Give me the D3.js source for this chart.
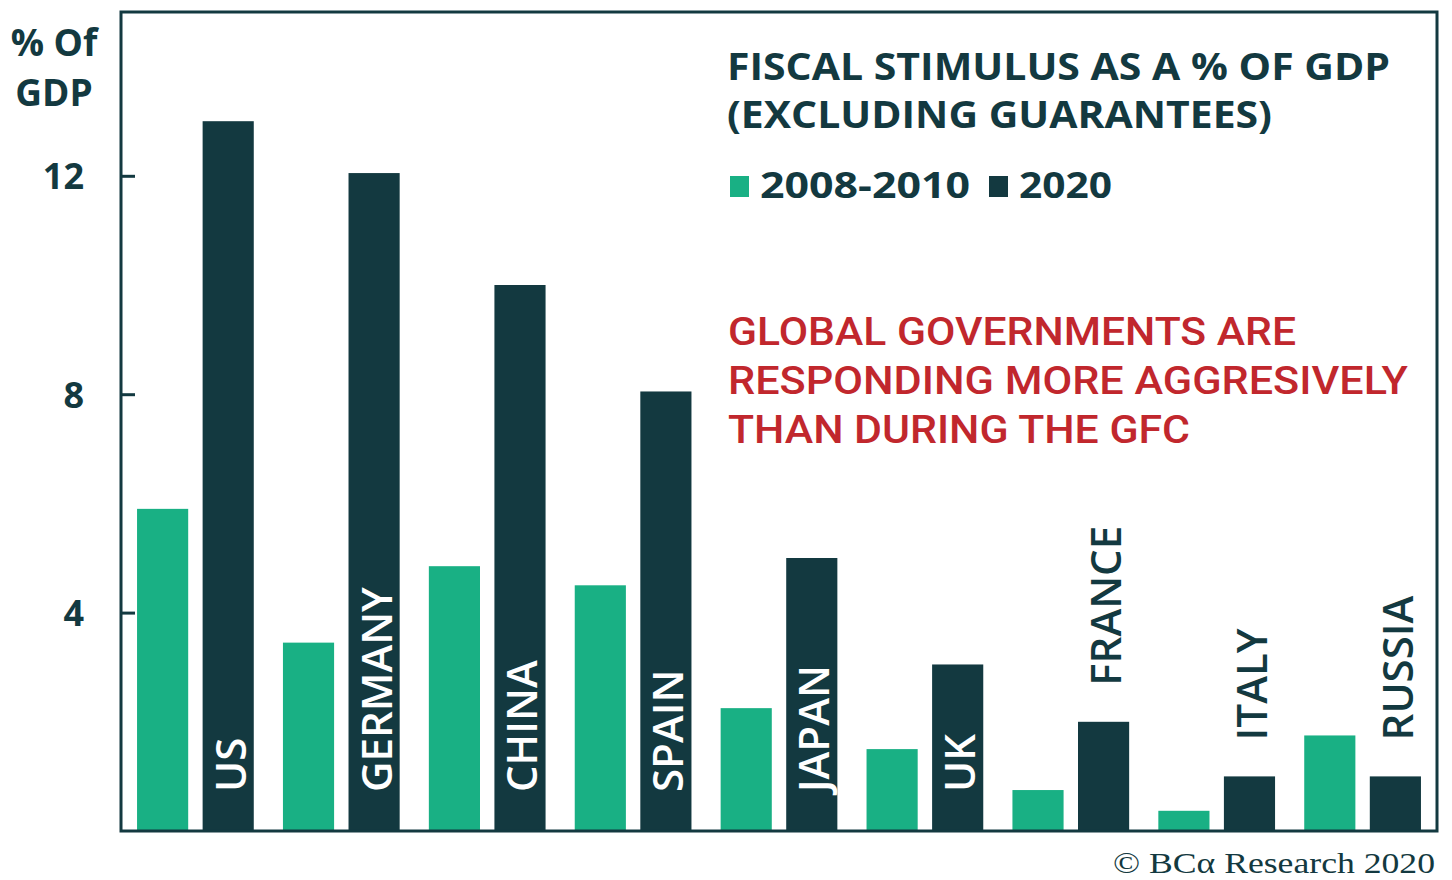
<!DOCTYPE html>
<html>
<head>
<meta charset="utf-8">
<script src="https://cdn.jsdelivr.net/npm/d3@7"></script>
<style>
  html, body { margin: 0; padding: 0; background: #fff; }
  svg { display: block; }
</style>
</head>
<body>
<svg id="chart" width="1452" height="880"></svg>
<script>
// Fiscal stimulus by country, % of GDP
const countries = ["US", "GERMANY", "CHINA", "SPAIN", "JAPAN", "UK", "FRANCE", "ITALY", "RUSSIA"];
const gfc2008 = [5.9, 3.45, 4.85, 4.5, 2.25, 1.5, 0.75, 0.37, 1.75];
const covid2020 = [13.0, 12.05, 10.0, 8.05, 5.0, 3.05, 2.0, 1.0, 1.0];
const seriesNames = ["2008-2010", "2020"];
const yTicks = [4, 8, 12];

const GREEN = "#19b084";
const DARK = "#133940";
const RED = "#c1272d";

const svg = d3.select("#chart");
const plot = { left: 121, right: 1437, top: 12, bottom: 831 };

const y = d3.scaleLinear().domain([0, 15]).range([plot.bottom, plot.top]);
const x0 = d3.scaleBand().domain(countries)
  .range([plot.left, plot.right]).paddingInner(0.2).paddingOuter(0.11);
const x1 = d3.scaleBand().domain(seriesNames)
  .range([0, x0.bandwidth()]).paddingInner(0.22).paddingOuter(0);

const rows = countries.map((c, i) => ({ country: c, values: [gfc2008[i], covid2020[i]] }));

// bars
const groups = svg.append("g").selectAll("g").data(rows).join("g")
  .attr("transform", d => `translate(${x0(d.country)},0)`);
groups.selectAll("rect").data(d => d.values.map((v, k) => ({ key: seriesNames[k], value: v })))
  .join("rect")
  .attr("x", d => x1(d.key))
  .attr("width", x1.bandwidth())
  .attr("y", d => y(d.value))
  .attr("height", d => y(0) - y(d.value))
  .attr("fill", d => d.key === "2020" ? DARK : GREEN);

// country labels, rotated; inside the 2020 bar where they fit, above it otherwise
const labelFont = "'Open Sans', sans-serif";
groups.each(function (d) {
  const g = d3.select(this);
  const cx = x1("2020") + x1.bandwidth() / 2;
  const t = g.append("text")
    .text(d.country)
    .attr("font-family", labelFont)
    .attr("font-weight", 600)
    .attr("font-size", 42)
    .attr("dominant-baseline", "central")
    .attr("text-anchor", "start");
  const len = t.node().getComputedTextLength();
  const barH = y(0) - y(d.values[1]);
  let startY, color;
  if (len + 45 < barH) {
    startY = y(0) - 39; color = "#ffffff";
  } else {
    startY = y(d.values[1]) - 36; color = DARK;
  }
  t.attr("fill", color)
   .attr("transform", `translate(${cx + 1},${startY}) rotate(-90)`);
});

// y axis ticks (inward) and labels
const yAxis = d3.axisRight(y).tickValues(yTicks).tickSize(14).tickFormat("");
svg.append("g").attr("transform", `translate(${plot.left},0)`).call(yAxis)
  .call(g => g.select(".domain").remove())
  .call(g => g.selectAll("line").attr("stroke", DARK).attr("stroke-width", 3));

svg.append("g").selectAll("text").data(yTicks).join("text")
  .attr("x", 84).attr("y", d => y(d))
  .attr("dominant-baseline", "central")
  .attr("text-anchor", "end")
  .attr("font-family", labelFont).attr("font-weight", 700).attr("font-size", 36)
  .attr("fill", DARK)
  .text(d => d);

// frame
svg.append("rect")
  .attr("x", plot.left).attr("y", plot.top)
  .attr("width", plot.right - plot.left).attr("height", plot.bottom - plot.top)
  .attr("fill", "none").attr("stroke", DARK).attr("stroke-width", 3);

// axis unit label
const unit = svg.append("text")
  .attr("font-family", labelFont).attr("font-weight", 700).attr("font-size", 37)
  .attr("fill", DARK).attr("text-anchor", "middle");
unit.append("tspan").attr("x", 54).attr("y", 56).text("% Of");
unit.append("tspan").attr("x", 54).attr("y", 106).text("GDP");

// title
const title = svg.append("g").attr("font-family", labelFont).attr("font-weight", 700)
  .attr("font-size", 37).attr("fill", DARK);
title.append("text").attr("x", 727).attr("y", 80)
  .attr("textLength", 663).attr("lengthAdjust", "spacingAndGlyphs")
  .text("FISCAL STIMULUS AS A % OF GDP");
title.append("text").attr("x", 727).attr("y", 128)
  .attr("textLength", 545).attr("lengthAdjust", "spacingAndGlyphs")
  .text("(EXCLUDING  GUARANTEES)");

// legend
const legend = svg.append("g");
const legendItems = [
  { name: seriesNames[0], color: GREEN, sx: 730, tx: 760, w: 210 },
  { name: seriesNames[1], color: DARK, sx: 989, tx: 1019, w: 93 }
];
legendItems.forEach(it => {
  legend.append("rect").attr("x", it.sx).attr("y", 176).attr("width", 19).attr("height", 21).attr("fill", it.color);
  legend.append("text").attr("x", it.tx).attr("y", 198)
    .attr("font-family", labelFont).attr("font-weight", 700).attr("font-size", 35)
    .attr("fill", DARK)
    .attr("textLength", it.w).attr("lengthAdjust", "spacingAndGlyphs")
    .text(it.name);
});

// annotation
const note = [
  { t: "GLOBAL GOVERNMENTS ARE", w: 568 },
  { t: "RESPONDING MORE AGGRESIVELY", w: 680 },
  { t: "THAN DURING THE GFC", w: 462 }
];
svg.append("g").selectAll("text").data(note).join("text")
  .attr("x", 728).attr("y", (d, i) => 345 + i * 49)
  .attr("font-family", "Roboto, sans-serif").attr("font-weight", 500).attr("font-size", 38)
  .attr("fill", RED)
  .attr("textLength", d => d.w).attr("lengthAdjust", "spacingAndGlyphs")
  .text(d => d.t);

// source
svg.append("text").attr("x", 1435).attr("y", 873).attr("text-anchor", "end")
  .attr("font-family", "'Liberation Serif', serif").attr("font-size", 29)
  .attr("fill", DARK)
  .attr("textLength", 322).attr("lengthAdjust", "spacingAndGlyphs")
  .text("© BCα Research 2020");
</script>
</body>
</html>
